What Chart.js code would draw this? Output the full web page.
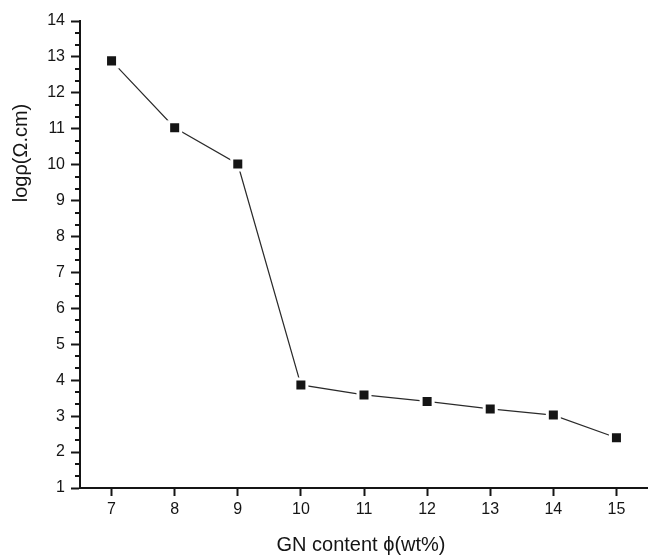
<!DOCTYPE html>
<html>
<head>
<meta charset="utf-8">
<script src="https://cdn.jsdelivr.net/npm/chart.js@4.4.1/dist/chart.umd.min.js"></script>
<style>
  html, body { margin: 0; padding: 0; background: #fff; }
  #wrap { width: 648px; height: 556px; position: relative; }
</style>
</head>
<body>
<div id="wrap"><canvas id="myChart"></canvas></div>
<script>
// values
const gnContent = [7, 8, 9, 10, 11, 12, 13, 14, 15];
const logRho = [12.89, 11.03, 10.02, 3.87, 3.59, 3.41, 3.2, 3.03, 2.4];
const xTicks = [7, 8, 9, 10, 11, 12, 13, 14, 15];
const yTicks = [1, 2, 3, 4, 5, 6, 7, 8, 9, 10, 11, 12, 13, 14];
const xTitle = 'GN content \u03D5(wt%)';
const yTitle = 'log\u03C1(\u03A9.cm)';

const FONT = '"Liberation Sans", Arial, Helvetica, sans-serif';
const INK = '#151515';

// minor ticks on y (two between each label) and both axis titles
const extras = {
    id: 'extras',
    afterDraw(chart) {
        const c = chart.ctx;
        const y = chart.scales.y;
        const x = chart.scales.x;
        c.save();
        c.strokeStyle = INK;
        c.lineWidth = 2;
        for (let i = 0; i < yTicks.length - 1; i++) {
            for (const f of [1 / 3, 2 / 3]) {
                const py = Math.round(y.getPixelForValue(yTicks[i] + f));
                c.beginPath();
                c.moveTo(y.right - 5, py);
                c.lineTo(y.right, py);
                c.stroke();
            }
        }
        c.fillStyle = INK;
        c.font = '20px ' + FONT;
        c.textAlign = 'center';
        c.textBaseline = 'alphabetic';
        c.fillText(xTitle, (x.left + x.right) / 2 - 3, 551);
        c.translate(27, 153);
        c.rotate(-Math.PI / 2);
        c.fillText(yTitle, 0, 0);
        c.restore();
    }
};

const ctx = document.getElementById('myChart');
new Chart(ctx, {
    type: 'line',
    data: {
        datasets: [{
            data: gnContent.map((g, i) => ({ x: g, y: logRho[i] })),
            borderColor: '#2a2a2a',
            borderWidth: 1.2,
            pointStyle: 'rect',
            pointRadius: 8.5,
            pointHoverRadius: 8.5,
            pointBackgroundColor: INK,
            pointBorderColor: '#ffffff',
            pointBorderWidth: 3,
            tension: 0,
            fill: false
        }]
    },
    options: {
        responsive: true,
        maintainAspectRatio: false,
        animation: false,
        events: [],
        layout: { autoPadding: false, padding: { top: 21, right: 0, bottom: 0, left: 0 } },
        plugins: {
            legend: { display: false },
            tooltip: { enabled: false }
        },
        scales: {
            x: {
                type: 'linear',
                min: 6.5,
                max: 15.5,
                afterBuildTicks: s => { s.ticks = xTicks.map(v => ({ value: v })); },
                afterFit: s => { s.height = 68; s.paddingLeft = 0; s.paddingRight = 0; },
                grid: {
                    drawOnChartArea: false,
                    drawTicks: true,
                    tickLength: 8,
                    tickWidth: 2,
                    tickColor: INK
                },
                border: { display: true, width: 2, color: INK },
                ticks: {
                    padding: 4,
                    color: INK,
                    maxRotation: 0,
                    font: { family: FONT, size: 16 }
                }
            },
            y: {
                type: 'linear',
                min: 1,
                max: 14,
                afterBuildTicks: s => { s.ticks = yTicks.map(v => ({ value: v })); },
                afterFit: s => { s.width = 80; s.paddingTop = 0; s.paddingBottom = 0; },
                grid: {
                    drawOnChartArea: false,
                    drawTicks: true,
                    tickLength: 9,
                    tickWidth: 2,
                    tickColor: INK
                },
                border: { display: true, width: 2, color: INK },
                ticks: {
                    padding: 6,
                    color: INK,
                    font: { family: FONT, size: 16 }
                }
            }
        }
    },
    plugins: [extras]
});
</script>
</body>
</html>
